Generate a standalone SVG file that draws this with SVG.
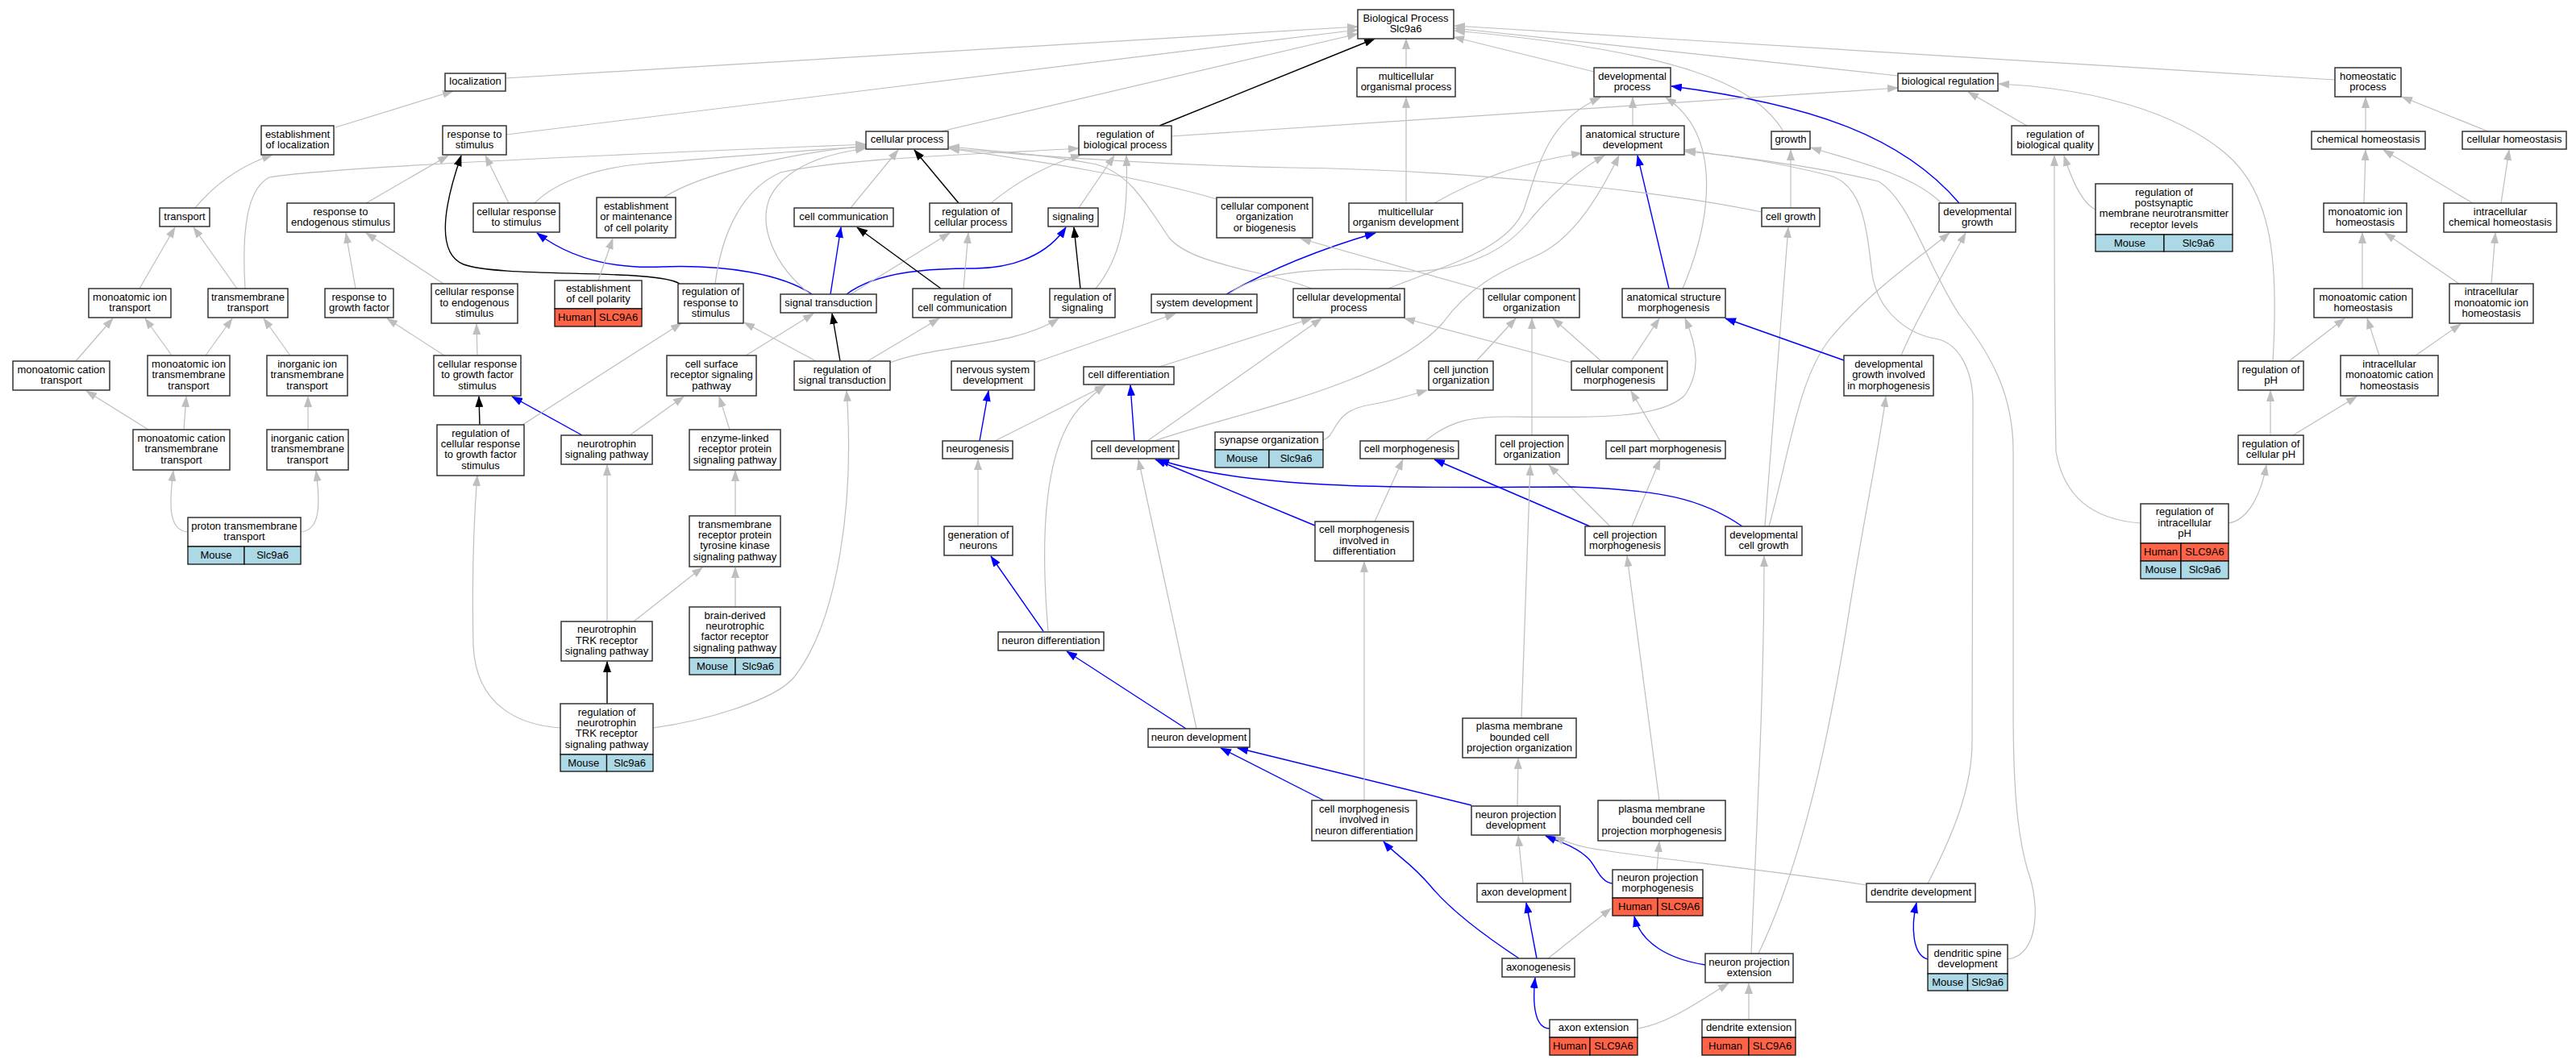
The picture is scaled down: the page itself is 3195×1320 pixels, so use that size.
<svg xmlns="http://www.w3.org/2000/svg" width="3195" height="1320" viewBox="0 0 3195 1320">
<defs>
<style>
text{font-family:"Liberation Sans",Arial,Helvetica,sans-serif;font-size:13px;text-anchor:middle;fill:#000}
.n rect{fill:#fff;stroke:#333;stroke-width:1.5}
.n rect.hu{fill:#ff6347;stroke:#111;stroke-width:1.3}
.n rect.mo{fill:#add8e6;stroke:#111;stroke-width:1.3}
#edges path{fill:none}
#edges .g{stroke:#bebebe;stroke-width:1.2;marker-end:url(#ag)}
#edges .k{stroke:#000;stroke-width:1.4;marker-end:url(#ak)}
#edges .b{stroke:#0000ff;stroke-width:1.4;marker-end:url(#ab)}
</style>
<marker id="ag" viewBox="0 0 14 10" refX="13" refY="5" markerWidth="14" markerHeight="10" markerUnits="userSpaceOnUse" orient="auto"><path d="M0,0L14,5L0,10z" fill="#bebebe"/></marker>
<marker id="ak" viewBox="0 0 14 10" refX="13" refY="5" markerWidth="14" markerHeight="10" markerUnits="userSpaceOnUse" orient="auto"><path d="M0,0L14,5L0,10z" fill="#000"/></marker>
<marker id="ab" viewBox="0 0 14 10" refX="13" refY="5" markerWidth="14" markerHeight="10" markerUnits="userSpaceOnUse" orient="auto"><path d="M0,0L14,5L0,10z" fill="#0000ff"/></marker>
</defs>
<rect x="0" y="0" width="3195" height="1320" fill="#fff"/>
<g id="edges">
<path class="g" d="M627,97 L1684,33"/>
<path class="g" d="M628,167 L1684,37"/>
<path class="g" d="M1167,163 L1684,42"/>
<path class="k" d="M1438,156 L1705,48"/>
<path class="g" d="M1744,84 L1744,48"/>
<path class="g" d="M1977,89 L1803,46"/>
<path class="g" d="M2212,163 C2180,110 2100,65 1804,38"/>
<path class="g" d="M2354,94 L1804,35"/>
<path class="g" d="M2896,99 L1804,32"/>
<path class="g" d="M416,158 L562,113"/>
<path class="g" d="M242,258 Q280,212 338,192"/>
<path class="g" d="M173,358 L217,282"/>
<path class="g" d="M294,358 L240,282"/>
<path class="g" d="M94,448 L140,395"/>
<path class="g" d="M213,441 L180,395"/>
<path class="g" d="M255,441 L288,395"/>
<path class="g" d="M360,441 L327,395"/>
<path class="g" d="M184,533 L107,485"/>
<path class="g" d="M228,533 L231,492"/>
<path class="g" d="M382,533 L382,492"/>
<path class="g" d="M233,660 C210,658 209,630 215,584"/>
<path class="g" d="M373,660 C396,658 398,630 392,584"/>
<path class="g" d="M304,358 C300,290 305,235 334,220 C400,208 800,190 1074,179"/>
<path class="g" d="M454,252 L556,193"/>
<path class="g" d="M631,252 L602,193"/>
<path class="g" d="M663,252 C690,225 740,208 800,203 C900,195 1000,186 1074,182"/>
<path class="k" d="M843,352 C815,333 620,345 575,328 C543,315 548,262 572,193"/>
<path class="b" d="M1007,365 C970,340 900,328 820,331 C750,334 700,315 666,289"/>
<path class="b" d="M1030,365 L1043,282"/>
<path class="b" d="M1050,365 C1090,335 1160,333 1210,333 C1260,332 1300,315 1322,282"/>
<path class="g" d="M1055,365 L1178,289"/>
<path class="g" d="M1005,365 C960,330 940,280 955,245 C975,205 1030,190 1074,184"/>
<path class="g" d="M887,352 C895,290 920,235 968,214 C1050,195 1250,190 1338,184"/>
<path class="g" d="M1055,258 L1114,186"/>
<path class="k" d="M1189,252 L1134,186"/>
<path class="g" d="M1229,252 Q1280,210 1341,192"/>
<path class="k" d="M1167,358 L1063,282"/>
<path class="g" d="M1195,358 L1201,289"/>
<path class="g" d="M1338,258 L1382,193"/>
<path class="k" d="M1340,358 L1332,282"/>
<path class="g" d="M1359,358 C1390,320 1400,270 1397,193"/>
<path class="k" d="M1042,448 L1032,389"/>
<path class="g" d="M1012,448 L923,400"/>
<path class="g" d="M1076,448 L1165,395"/>
<path class="g" d="M1104,450 C1160,428 1260,430 1313,395"/>
<path class="g" d="M925,441 L1009,389"/>
<path class="g" d="M905,533 L892,492"/>
<path class="g" d="M781,540 L848,492"/>
<path class="b" d="M722,540 L635,492"/>
<path class="k" d="M595,527 L594,492"/>
<path class="g" d="M648,527 L845,401"/>
<path class="g" d="M551,441 L480,395"/>
<path class="g" d="M592,441 L591,402"/>
<path class="g" d="M441,358 L429,289"/>
<path class="g" d="M550,352 L454,289"/>
<path class="g" d="M742,348 L760,296"/>
<path class="g" d="M823,245 C870,215 980,190 1074,181"/>
<path class="g" d="M912,640 L912,584"/>
<path class="g" d="M912,753 L912,704"/>
<path class="g" d="M786,771 L871,704"/>
<path class="g" d="M753,771 L753,577"/>
<path class="k" d="M753,873 L753,821"/>
<path class="g" d="M695,903 C650,900 590,880 587,800 C585,700 588,640 592,590"/>
<path class="g" d="M810,903 C870,895 960,870 985,840 C1040,770 1060,620 1050,485"/>
<path class="g" d="M1283,450 L1458,389"/>
<path class="b" d="M1215,547 L1226,485"/>
<path class="g" d="M1234,547 L1371,478"/>
<path class="g" d="M1300,783 C1292,690 1290,560 1340,505 Q1355,490 1370,478"/>
<path class="b" d="M1294,783 L1229,690"/>
<path class="g" d="M1213,653 L1213,570"/>
<path class="b" d="M1407,547 L1402,478"/>
<path class="g" d="M1423,547 L1639,395"/>
<path class="g" d="M1432,547 C1520,515 1720,480 1790,400 C1830,345 1880,330 1910,315 C1950,295 1980,250 2008,193"/>
<path class="g" d="M1438,455 L1627,395"/>
<path class="g" d="M1627,358 C1570,335 1480,330 1450,295 C1420,250 1400,215 1360,204 C1300,192 1240,188 1177,182"/>
<path class="g" d="M1722,358 C1790,330 1870,310 1890,260 C1910,200 1920,150 1985,121"/>
<path class="b" d="M1521,365 Q1600,320 1706,289"/>
<path class="g" d="M1524,365 C1560,335 1650,330 1750,337 C1820,335 1870,310 1900,270 C1930,235 1960,210 1990,193"/>
<path class="g" d="M1779,252 Q1860,205 1962,190"/>
<path class="g" d="M1744,252 L1744,121"/>
<path class="g" d="M2025,156 L2025,121"/>
<path class="b" d="M2070,358 L2031,193"/>
<path class="g" d="M2087,358 C2120,280 2140,170 2066,121"/>
<path class="g" d="M2408,252 C2370,215 2300,200 2246,183"/>
<path class="b" d="M2430,252 C2360,170 2250,130 2073,107"/>
<path class="g" d="M2221,258 L2221,186"/>
<path class="g" d="M2185,263 C2050,235 1800,210 1600,208 C1450,205 1300,195 1177,184"/>
<path class="g" d="M1900,540 L1900,395"/>
<path class="g" d="M1831,448 L1880,395"/>
<path class="g" d="M1986,448 L1926,395"/>
<path class="g" d="M2023,448 L2058,395"/>
<path class="g" d="M1949,450 L1742,395"/>
<path class="g" d="M1840,360 L1613,296"/>
<path class="g" d="M1509,247 C1400,215 1250,195 1177,184"/>
<path class="g" d="M2059,547 L2023,485"/>
<path class="g" d="M1768,547 C1800,520 1830,517 1870,517 C1980,518 2060,520 2090,490 C2110,460 2105,430 2090,395"/>
<path class="g" d="M1641,546 C1660,540 1650,510 1700,502 C1730,497 1750,490 1770,484"/>
<path class="g" d="M1705,647 L1740,570"/>
<path class="b" d="M1631,652 L1433,570"/>
<path class="b" d="M1972,653 L1779,570"/>
<path class="g" d="M1997,653 L1921,577"/>
<path class="g" d="M2024,653 L2059,570"/>
<path class="b" d="M2161,653 C2110,618 2060,608 1950,604 C1800,604 1560,612 1437,570"/>
<path class="g" d="M2189,653 C2200,500 2210,380 2218,282"/>
<path class="g" d="M2194,653 C2220,560 2230,470 2270,420 C2320,360 2380,320 2418,289"/>
<path class="g" d="M2358,441 C2375,400 2410,340 2438,289"/>
<path class="b" d="M2287,447 L2140,395"/>
<path class="g" d="M2181,1183 C2240,1060 2270,900 2290,780 C2310,650 2330,560 2339,492"/>
<path class="g" d="M2172,1183 C2180,1000 2188,850 2188,690"/>
<path class="g" d="M1887,891 L1898,577"/>
<path class="g" d="M1882,1000 L1883,941"/>
<path class="b" d="M1825,999 L1535,928"/>
<path class="b" d="M1642,993 L1514,928"/>
<path class="g" d="M1692,993 L1692,697"/>
<path class="b" d="M1471,904 L1323,808"/>
<path class="g" d="M1484,904 L1412,570"/>
<path class="g" d="M2058,993 L2018,690"/>
<path class="b" d="M2000,1096 C1985,1095 1980,1075 1970,1065 C1955,1050 1935,1045 1917,1037"/>
<path class="g" d="M2055,1079 L2058,1044"/>
<path class="g" d="M1889,1096 L1883,1037"/>
<path class="b" d="M1906,1189 L1893,1120"/>
<path class="b" d="M1884,1189 C1840,1160 1800,1130 1775,1100 C1750,1070 1730,1060 1716,1044"/>
<path class="g" d="M1920,1189 L1998,1127"/>
<path class="b" d="M1922,1276 C1905,1276 1900,1250 1904,1213"/>
<path class="g" d="M2031,1276 C2070,1270 2110,1240 2144,1220"/>
<path class="g" d="M2169,1265 L2169,1220"/>
<path class="b" d="M2115,1197 C2070,1190 2035,1170 2027,1137"/>
<path class="g" d="M2315,1098 C2200,1080 2050,1065 1990,1055 Q1950,1050 1928,1037"/>
<path class="b" d="M2391,1190 C2372,1185 2370,1150 2377,1120"/>
<path class="g" d="M2490,1190 C2530,1185 2530,1120 2515,1080 C2500,1030 2497,960 2497,880 L2497,560 C2497,490 2470,440 2430,390 C2390,330 2370,250 2330,225 C2250,205 2150,195 2090,186"/>
<path class="g" d="M2391,1096 C2420,1040 2446,980 2446,920 L2447,500 C2447,460 2430,425 2400,420 C2370,415 2330,390 2322,340 C2315,280 2310,230 2270,218 C2200,200 2140,192 2090,188"/>
<path class="g" d="M1453,169 L2354,109"/>
<path class="g" d="M2514,156 L2441,114"/>
<path class="g" d="M2819,448 C2826,330 2820,240 2760,190 C2700,140 2600,110 2479,104"/>
<path class="g" d="M2839,448 L2908,395"/>
<path class="g" d="M2816,540 L2816,485"/>
<path class="g" d="M2844,540 L2923,492"/>
<path class="g" d="M2764,649 C2790,645 2805,610 2811,577"/>
<path class="g" d="M2655,649 C2600,645 2560,620 2550,560 C2548,450 2548,300 2548,193"/>
<path class="g" d="M2599,260 Q2578,250 2560,193"/>
<path class="g" d="M2951,441 L2936,395"/>
<path class="g" d="M2996,441 L3052,402"/>
<path class="g" d="M2930,358 L2930,289"/>
<path class="g" d="M3050,352 L2958,289"/>
<path class="g" d="M3090,352 L3095,289"/>
<path class="g" d="M2932,252 L2934,186"/>
<path class="g" d="M3067,252 L2956,186"/>
<path class="g" d="M3102,252 L3112,186"/>
<path class="g" d="M2934,163 L2934,121"/>
<path class="g" d="M3086,163 L2979,120"/>
</g>
<g id="bp" class="n"><rect x="1684" y="12" width="119" height="36"/><text x="1743.5" y="26.6">Biological Process</text><text x="1743.5" y="39.9">Slc9a6</text></g>
<g id="loc" class="n"><rect x="552" y="91" width="75" height="22"/><text x="589.5" y="105.2">localization</text></g>
<g id="mop" class="n"><rect x="1683" y="84" width="122" height="36"/><text x="1744" y="98.5">multicellular</text><text x="1744" y="111.9">organismal process</text></g>
<g id="dp" class="n"><rect x="1977" y="84" width="95" height="36"/><text x="2024.5" y="98.5">developmental</text><text x="2024.5" y="111.9">process</text></g>
<g id="br" class="n"><rect x="2354" y="91" width="124" height="22"/><text x="2416" y="105.2">biological regulation</text></g>
<g id="hp" class="n"><rect x="2896" y="84" width="82" height="36"/><text x="2937" y="98.5">homeostatic</text><text x="2937" y="111.9">process</text></g>
<g id="estloc" class="n"><rect x="324" y="156" width="90" height="36"/><text x="369" y="170.5">establishment</text><text x="369" y="183.9">of localization</text></g>
<g id="rts" class="n"><rect x="549" y="156" width="79" height="36"/><text x="588.5" y="170.5">response to</text><text x="588.5" y="183.9">stimulus</text></g>
<g id="cp" class="n"><rect x="1074" y="163" width="102" height="22"/><text x="1125" y="177.2">cellular process</text></g>
<g id="rbp" class="n"><rect x="1338" y="156" width="115" height="36"/><text x="1395.5" y="170.5">regulation of</text><text x="1395.5" y="183.9">biological process</text></g>
<g id="asd" class="n"><rect x="1961" y="156" width="128" height="36"/><text x="2025" y="170.5">anatomical structure</text><text x="2025" y="183.9">development</text></g>
<g id="growth" class="n"><rect x="2197" y="163" width="48" height="22"/><text x="2221" y="177.2">growth</text></g>
<g id="rbq" class="n"><rect x="2495" y="156" width="108" height="36"/><text x="2549" y="170.5">regulation of</text><text x="2549" y="183.9">biological quality</text></g>
<g id="ch" class="n"><rect x="2867" y="163" width="141" height="22"/><text x="2937.5" y="177.2">chemical homeostasis</text></g>
<g id="cellh" class="n"><rect x="3054" y="163" width="129" height="22"/><text x="3118.5" y="177.2">cellular homeostasis</text></g>
<g id="transport" class="n"><rect x="198" y="258" width="62" height="23"/><text x="229" y="272.7">transport</text></g>
<g id="rtes" class="n"><rect x="356" y="252" width="133" height="36"/><text x="422.5" y="266.5">response to</text><text x="422.5" y="279.9">endogenous stimulus</text></g>
<g id="crs" class="n"><rect x="587" y="252" width="107" height="36"/><text x="640.5" y="266.5">cellular response</text><text x="640.5" y="279.9">to stimulus</text></g>
<g id="emcp" class="n"><rect x="740" y="245" width="98" height="50"/><text x="789" y="259.9">establishment</text><text x="789" y="273.2">or maintenance</text><text x="789" y="286.5">of cell polarity</text></g>
<g id="cc" class="n"><rect x="985" y="258" width="123" height="23"/><text x="1046.5" y="272.7">cell communication</text></g>
<g id="rcp" class="n"><rect x="1153" y="252" width="102" height="36"/><text x="1204" y="266.5">regulation of</text><text x="1204" y="279.9">cellular process</text></g>
<g id="sig" class="n"><rect x="1300" y="258" width="62" height="23"/><text x="1331" y="272.7">signaling</text></g>
<g id="ccob" class="n"><rect x="1509" y="245" width="119" height="50"/><text x="1568.5" y="259.9">cellular component</text><text x="1568.5" y="273.2">organization</text><text x="1568.5" y="286.5">or biogenesis</text></g>
<g id="mod" class="n"><rect x="1673" y="252" width="141" height="36"/><text x="1743.5" y="266.5">multicellular</text><text x="1743.5" y="279.9">organism development</text></g>
<g id="cg" class="n"><rect x="2185" y="258" width="72" height="23"/><text x="2221" y="272.7">cell growth</text></g>
<g id="dg" class="n"><rect x="2405" y="252" width="95" height="36"/><text x="2452.5" y="266.5">developmental</text><text x="2452.5" y="279.9">growth</text></g>
<g id="rpmnrl" class="n"><rect x="2599" y="228" width="170" height="63"/><text x="2684" y="242.7">regulation of</text><text x="2684" y="256">postsynaptic</text><text x="2684" y="269.4">membrane neurotransmitter</text><text x="2684" y="282.7">receptor levels</text><rect class="mo" x="2599" y="291" width="85" height="21"/><rect class="mo" x="2684" y="291" width="85" height="21"/><text x="2641.5" y="306">Mouse</text><text x="2726.5" y="306">Slc9a6</text></g>
<g id="mih" class="n"><rect x="2882" y="252" width="103" height="36"/><text x="2933.5" y="266.5">monoatomic ion</text><text x="2933.5" y="279.9">homeostasis</text></g>
<g id="ich" class="n"><rect x="3031" y="252" width="140" height="36"/><text x="3101" y="266.5">intracellular</text><text x="3101" y="279.9">chemical homeostasis</text></g>
<g id="mit" class="n"><rect x="110" y="358" width="102" height="36"/><text x="161" y="372.5">monoatomic ion</text><text x="161" y="385.9">transport</text></g>
<g id="tmt" class="n"><rect x="258" y="358" width="99" height="36"/><text x="307.5" y="372.5">transmembrane</text><text x="307.5" y="385.9">transport</text></g>
<g id="rtgf" class="n"><rect x="403" y="358" width="85" height="36"/><text x="445.5" y="372.5">response to</text><text x="445.5" y="385.9">growth factor</text></g>
<g id="cres" class="n"><rect x="535" y="352" width="107" height="49"/><text x="588.5" y="366.4">cellular response</text><text x="588.5" y="379.7">to endogenous</text><text x="588.5" y="393">stimulus</text></g>
<g id="ecp" class="n"><rect x="688" y="348" width="108" height="35"/><text x="742" y="362">establishment</text><text x="742" y="375.4">of cell polarity</text><rect class="hu" x="688" y="383" width="50" height="22"/><rect class="hu" x="738" y="383" width="58" height="22"/><text x="713" y="398.2">Human</text><text x="767" y="398.2">SLC9A6</text></g>
<g id="rrs" class="n"><rect x="841" y="352" width="81" height="49"/><text x="881.5" y="366.4">regulation of</text><text x="881.5" y="379.7">response to</text><text x="881.5" y="393">stimulus</text></g>
<g id="st" class="n"><rect x="968" y="365" width="119" height="23"/><text x="1027.5" y="379.7">signal transduction</text></g>
<g id="rcc" class="n"><rect x="1132" y="358" width="123" height="36"/><text x="1193.5" y="372.5">regulation of</text><text x="1193.5" y="385.9">cell communication</text></g>
<g id="rsig" class="n"><rect x="1302" y="358" width="81" height="36"/><text x="1342.5" y="372.5">regulation of</text><text x="1342.5" y="385.9">signaling</text></g>
<g id="sd" class="n"><rect x="1428" y="365" width="131" height="23"/><text x="1493.5" y="379.7">system development</text></g>
<g id="cdp" class="n"><rect x="1604" y="358" width="138" height="36"/><text x="1673" y="372.5">cellular developmental</text><text x="1673" y="385.9">process</text></g>
<g id="cco" class="n"><rect x="1840" y="358" width="119" height="36"/><text x="1899.5" y="372.5">cellular component</text><text x="1899.5" y="385.9">organization</text></g>
<g id="asm" class="n"><rect x="2012" y="358" width="128" height="36"/><text x="2076" y="372.5">anatomical structure</text><text x="2076" y="385.9">morphogenesis</text></g>
<g id="mch" class="n"><rect x="2870" y="358" width="122" height="36"/><text x="2931" y="372.5">monoatomic cation</text><text x="2931" y="385.9">homeostasis</text></g>
<g id="imih" class="n"><rect x="3038" y="352" width="104" height="49"/><text x="3090" y="366.4">intracellular</text><text x="3090" y="379.7">monoatomic ion</text><text x="3090" y="393">homeostasis</text></g>
<g id="mct" class="n"><rect x="16" y="448" width="120" height="36"/><text x="76" y="462.5">monoatomic cation</text><text x="76" y="475.9">transport</text></g>
<g id="mitt" class="n"><rect x="183" y="441" width="102" height="50"/><text x="234" y="455.9">monoatomic ion</text><text x="234" y="469.2">transmembrane</text><text x="234" y="482.5">transport</text></g>
<g id="iitt" class="n"><rect x="331" y="441" width="100" height="50"/><text x="381" y="455.9">inorganic ion</text><text x="381" y="469.2">transmembrane</text><text x="381" y="482.5">transport</text></g>
<g id="crgfs" class="n"><rect x="538" y="441" width="108" height="50"/><text x="592" y="455.9">cellular response</text><text x="592" y="469.2">to growth factor</text><text x="592" y="482.5">stimulus</text></g>
<g id="csrsp" class="n"><rect x="827" y="441" width="111" height="50"/><text x="882.5" y="455.9">cell surface</text><text x="882.5" y="469.2">receptor signaling</text><text x="882.5" y="482.5">pathway</text></g>
<g id="rst" class="n"><rect x="985" y="448" width="119" height="36"/><text x="1044.5" y="462.5">regulation of</text><text x="1044.5" y="475.9">signal transduction</text></g>
<g id="nsd" class="n"><rect x="1180" y="448" width="103" height="36"/><text x="1231.5" y="462.5">nervous system</text><text x="1231.5" y="475.9">development</text></g>
<g id="cd" class="n"><rect x="1344" y="455" width="112" height="22"/><text x="1400" y="469.2">cell differentiation</text></g>
<g id="cjo" class="n"><rect x="1772" y="448" width="80" height="36"/><text x="1812" y="462.5">cell junction</text><text x="1812" y="475.9">organization</text></g>
<g id="ccm" class="n"><rect x="1949" y="448" width="119" height="36"/><text x="2008.5" y="462.5">cellular component</text><text x="2008.5" y="475.9">morphogenesis</text></g>
<g id="dgim" class="n"><rect x="2287" y="441" width="111" height="50"/><text x="2342.5" y="455.9">developmental</text><text x="2342.5" y="469.2">growth involved</text><text x="2342.5" y="482.5">in morphogenesis</text></g>
<g id="rph" class="n"><rect x="2776" y="448" width="81" height="36"/><text x="2816.5" y="462.5">regulation of</text><text x="2816.5" y="475.9">pH</text></g>
<g id="imch" class="n"><rect x="2903" y="441" width="121" height="50"/><text x="2963.5" y="455.9">intracellular</text><text x="2963.5" y="469.2">monoatomic cation</text><text x="2963.5" y="482.5">homeostasis</text></g>
<g id="mctt" class="n"><rect x="165" y="533" width="120" height="50"/><text x="225" y="547.9">monoatomic cation</text><text x="225" y="561.2">transmembrane</text><text x="225" y="574.5">transport</text></g>
<g id="ictt" class="n"><rect x="331" y="533" width="101" height="50"/><text x="381.5" y="547.9">inorganic cation</text><text x="381.5" y="561.2">transmembrane</text><text x="381.5" y="574.5">transport</text></g>
<g id="rcrgfs" class="n"><rect x="542" y="527" width="108" height="63"/><text x="596" y="541.7">regulation of</text><text x="596" y="555">cellular response</text><text x="596" y="568.4">to growth factor</text><text x="596" y="581.7">stimulus</text></g>
<g id="nsp" class="n"><rect x="696" y="540" width="113" height="36"/><text x="752.5" y="554.5">neurotrophin</text><text x="752.5" y="567.9">signaling pathway</text></g>
<g id="elrp" class="n"><rect x="855" y="533" width="113" height="50"/><text x="911.5" y="547.9">enzyme-linked</text><text x="911.5" y="561.2">receptor protein</text><text x="911.5" y="574.5">signaling pathway</text></g>
<g id="neurogenesis" class="n"><rect x="1169" y="547" width="87" height="22"/><text x="1212.5" y="561.2">neurogenesis</text></g>
<g id="cdev" class="n"><rect x="1354" y="547" width="108" height="22"/><text x="1408" y="561.2">cell development</text></g>
<g id="so" class="n"><rect x="1507" y="536" width="134" height="22"/><text x="1574" y="550.2">synapse organization</text><rect class="mo" x="1507" y="558" width="67" height="22"/><rect class="mo" x="1574" y="558" width="67" height="22"/><text x="1540.5" y="573.2">Mouse</text><text x="1607.5" y="573.2">Slc9a6</text></g>
<g id="cm" class="n"><rect x="1687" y="547" width="122" height="22"/><text x="1748" y="561.2">cell morphogenesis</text></g>
<g id="cpo" class="n"><rect x="1855" y="540" width="90" height="36"/><text x="1900" y="554.5">cell projection</text><text x="1900" y="567.9">organization</text></g>
<g id="cpm" class="n"><rect x="1992" y="547" width="148" height="22"/><text x="2066" y="561.2">cell part morphogenesis</text></g>
<g id="rcph" class="n"><rect x="2776" y="540" width="81" height="36"/><text x="2816.5" y="554.5">regulation of</text><text x="2816.5" y="567.9">cellular pH</text></g>
<g id="ptt" class="n"><rect x="233" y="642" width="140" height="36"/><text x="303" y="656.5">proton transmembrane</text><text x="303" y="669.9">transport</text><rect class="mo" x="233" y="678" width="70" height="22"/><rect class="mo" x="303" y="678" width="70" height="22"/><text x="268" y="693.2">Mouse</text><text x="338" y="693.2">Slc9a6</text></g>
<g id="tmrptk" class="n"><rect x="855" y="640" width="113" height="63"/><text x="911.5" y="654.7">transmembrane</text><text x="911.5" y="668">receptor protein</text><text x="911.5" y="681.4">tyrosine kinase</text><text x="911.5" y="694.7">signaling pathway</text></g>
<g id="gon" class="n"><rect x="1171" y="653" width="85" height="36"/><text x="1213.5" y="667.5">generation of</text><text x="1213.5" y="680.9">neurons</text></g>
<g id="cmid" class="n"><rect x="1631" y="647" width="122" height="49"/><text x="1692" y="661.4">cell morphogenesis</text><text x="1692" y="674.7">involved in</text><text x="1692" y="688">differentiation</text></g>
<g id="cpmorph" class="n"><rect x="1966" y="653" width="99" height="36"/><text x="2015.5" y="667.5">cell projection</text><text x="2015.5" y="680.9">morphogenesis</text></g>
<g id="dcg" class="n"><rect x="2140" y="653" width="95" height="36"/><text x="2187.5" y="667.5">developmental</text><text x="2187.5" y="680.9">cell growth</text></g>
<g id="ripH" class="n"><rect x="2655" y="625" width="109" height="49"/><text x="2709.5" y="639.4">regulation of</text><text x="2709.5" y="652.7">intracellular</text><text x="2709.5" y="666">pH</text><rect class="hu" x="2655" y="674" width="50" height="22"/><rect class="hu" x="2705" y="674" width="59" height="22"/><text x="2680" y="689.2">Human</text><text x="2734.5" y="689.2">SLC9A6</text><rect class="mo" x="2655" y="696" width="50" height="22"/><rect class="mo" x="2705" y="696" width="59" height="22"/><text x="2680" y="711.2">Mouse</text><text x="2734.5" y="711.2">Slc9a6</text></g>
<g id="ntrk" class="n"><rect x="696" y="771" width="113" height="49"/><text x="752.5" y="785.4">neurotrophin</text><text x="752.5" y="798.7">TRK receptor</text><text x="752.5" y="812">signaling pathway</text></g>
<g id="bdnf" class="n"><rect x="855" y="753" width="113" height="63"/><text x="911.5" y="767.7">brain-derived</text><text x="911.5" y="781">neurotrophic</text><text x="911.5" y="794.4">factor receptor</text><text x="911.5" y="807.7">signaling pathway</text><rect class="mo" x="855" y="816" width="57" height="21"/><rect class="mo" x="912" y="816" width="56" height="21"/><text x="883.5" y="831">Mouse</text><text x="940" y="831">Slc9a6</text></g>
<g id="nd" class="n"><rect x="1238" y="784" width="131" height="23"/><text x="1303.5" y="798.7">neuron differentiation</text></g>
<g id="rntrk" class="n"><rect x="695" y="873" width="115" height="63"/><text x="752.5" y="887.7">regulation of</text><text x="752.5" y="901">neurotrophin</text><text x="752.5" y="914.4">TRK receptor</text><text x="752.5" y="927.7">signaling pathway</text><rect class="mo" x="695" y="936" width="57.5" height="21"/><rect class="mo" x="752.5" y="936" width="57.5" height="21"/><text x="723.8" y="951">Mouse</text><text x="781.2" y="951">Slc9a6</text></g>
<g id="ndev" class="n"><rect x="1424" y="904" width="126" height="23"/><text x="1487" y="918.7">neuron development</text></g>
<g id="pmbcpo" class="n"><rect x="1814" y="891" width="141" height="49"/><text x="1884.5" y="905.4">plasma membrane</text><text x="1884.5" y="918.7">bounded cell</text><text x="1884.5" y="932">projection organization</text></g>
<g id="cmind" class="n"><rect x="1627" y="993" width="130" height="50"/><text x="1692" y="1007.9">cell morphogenesis</text><text x="1692" y="1021.2">involved in</text><text x="1692" y="1034.5">neuron differentiation</text></g>
<g id="npd" class="n"><rect x="1825" y="1000" width="110" height="36"/><text x="1880" y="1014.5">neuron projection</text><text x="1880" y="1027.9">development</text></g>
<g id="pmbcpm" class="n"><rect x="1982" y="993" width="158" height="50"/><text x="2061" y="1007.9">plasma membrane</text><text x="2061" y="1021.2">bounded cell</text><text x="2061" y="1034.5">projection morphogenesis</text></g>
<g id="ad" class="n"><rect x="1832" y="1096" width="116" height="23"/><text x="1890" y="1110.7">axon development</text></g>
<g id="npm" class="n"><rect x="2000" y="1079" width="112" height="35"/><text x="2056" y="1093">neuron projection</text><text x="2056" y="1106.4">morphogenesis</text><rect class="hu" x="2000" y="1114" width="56" height="22"/><rect class="hu" x="2056" y="1114" width="56" height="22"/><text x="2028" y="1129.2">Human</text><text x="2084" y="1129.2">SLC9A6</text></g>
<g id="dd" class="n"><rect x="2315" y="1096" width="135" height="23"/><text x="2382.5" y="1110.7">dendrite development</text></g>
<g id="axg" class="n"><rect x="1863" y="1189" width="90" height="23"/><text x="1908" y="1203.7">axonogenesis</text></g>
<g id="npe" class="n"><rect x="2115" y="1183" width="109" height="36"/><text x="2169.5" y="1197.5">neuron projection</text><text x="2169.5" y="1210.9">extension</text></g>
<g id="dsd" class="n"><rect x="2391" y="1172" width="99" height="36"/><text x="2440.5" y="1186.5">dendritic spine</text><text x="2440.5" y="1199.9">development</text><rect class="mo" x="2391" y="1208" width="49.5" height="21"/><rect class="mo" x="2440.5" y="1208" width="49.5" height="21"/><text x="2415.8" y="1223">Mouse</text><text x="2465.2" y="1223">Slc9a6</text></g>
<g id="ae" class="n"><rect x="1922" y="1265" width="109" height="22"/><text x="1976.5" y="1279.2">axon extension</text><rect class="hu" x="1922" y="1287" width="50" height="22"/><rect class="hu" x="1972" y="1287" width="59" height="22"/><text x="1947" y="1302.2">Human</text><text x="2001.5" y="1302.2">SLC9A6</text></g>
<g id="de" class="n"><rect x="2111" y="1265" width="116" height="22"/><text x="2169" y="1279.2">dendrite extension</text><rect class="hu" x="2111" y="1287" width="58" height="22"/><rect class="hu" x="2169" y="1287" width="58" height="22"/><text x="2140" y="1302.2">Human</text><text x="2198" y="1302.2">SLC9A6</text></g>
</svg>
